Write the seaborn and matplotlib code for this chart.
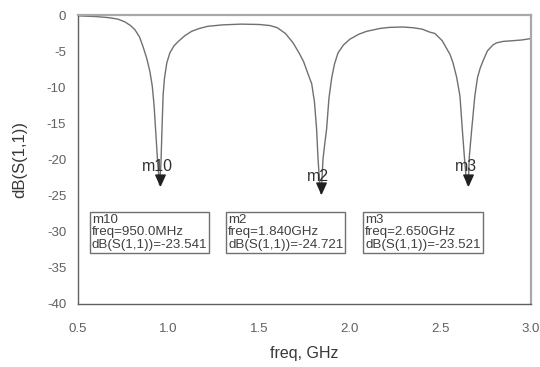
import numpy as np
import pandas as pd
import seaborn as sns
import matplotlib
matplotlib.use("Agg")
import matplotlib.pyplot as plt
from matplotlib.path import Path
from matplotlib.ticker import MultipleLocator

# ---- data ----
freq_ghz = [0.50, 0.60, 0.67, 0.72, 0.76, 0.79, 0.815, 0.84, 0.86, 0.88, 0.897,
            0.91, 0.92, 0.93, 0.94, 0.95, 0.958, 0.964, 0.970, 0.977, 0.99, 1.007,
            1.03, 1.054, 1.09, 1.127, 1.17, 1.217, 1.30, 1.40, 1.50, 1.56, 1.60,
            1.645, 1.687, 1.72, 1.745, 1.765, 1.79, 1.805, 1.817, 1.825, 1.833,
            1.84, 1.846, 1.852, 1.862, 1.872, 1.885, 1.90, 1.915, 1.935, 1.965,
            2.00, 2.05, 2.093, 2.167, 2.22, 2.29, 2.35, 2.40, 2.44, 2.47, 2.51,
            2.553, 2.57, 2.59, 2.608, 2.621, 2.632, 2.642, 2.65, 2.655, 2.66,
            2.673, 2.69, 2.705, 2.72, 2.737, 2.76, 2.79, 2.81, 2.846, 2.90, 2.95, 3.00]
s11_db = [-0.05, -0.15, -0.3, -0.5, -0.9, -1.4, -2.0, -3.0, -4.4, -6.0, -7.8,
          -9.8, -12.5, -16.5, -20.5, -23.541, -20.5, -15.5, -11.0, -8.8, -6.6, -5.2,
          -4.2, -3.6, -2.8, -2.2, -1.8, -1.5, -1.3, -1.2, -1.25, -1.4, -1.7,
          -2.5, -3.8, -5.2, -6.4, -7.8, -9.5, -12.0, -15.8, -20.0, -23.0,
          -24.721, -23.0, -20.0, -17.8, -15.8, -11.5, -8.7, -6.8, -5.2, -4.1,
          -3.3, -2.6, -2.2, -1.8, -1.65, -1.6, -1.7, -1.9, -2.3, -2.5, -3.5,
          -5.4, -6.6, -8.6, -11.2, -15.8, -19.5, -22.5, -23.521, -22.5, -19.5,
          -15.8, -11.2, -8.6, -7.3, -6.2, -4.9, -4.1, -3.8, -3.6, -3.5, -3.4, -3.2]

marker_names = ["m10", "m2", "m3"]
marker_freq = [0.95, 1.84, 2.65]
marker_db = [-23.541, -24.721, -23.521]
marker_freq_text = ["950.0MHz", "1.840GHz", "2.650GHz"]
marker_label_xy = [(0.94, -21.0), (1.825, -22.3), (2.641, -21.0)]
readout_xy = [(0.577, -27.55), (1.328, -27.55), (2.084, -27.55)]

x_ticks = [0.5, 1.0, 1.5, 2.0, 2.5, 3.0]
y_ticks = [0, -5, -10, -15, -20, -25, -30, -35, -40]

# ---- plotting ----
sns.set_style("white")
plt.rcParams["font.family"] = ["Liberation Sans", "DejaVu Sans"]

fig = plt.figure(figsize=(5.4, 3.67), dpi=100)
ax = fig.add_axes([0.1444, 0.173, 0.9833 - 0.1444, 0.9578 - 0.173])

df = pd.DataFrame({"freq": freq_ghz, "s11": s11_db})
sns.lineplot(data=df, x="freq", y="s11", ax=ax, color="#707070", linewidth=1.0)

ax.set_xlim(0.5, 3.0)
ax.set_ylim(-40, 0)
ax.set_xticks(x_ticks)
ax.set_xticklabels([f"{v:.1f}" for v in x_ticks])
ax.set_yticks(y_ticks)
ax.set_yticklabels([str(v) for v in y_ticks])
ax.xaxis.set_minor_locator(MultipleLocator(0.1))

ax.tick_params(axis="x", which="major", direction="out", length=7, width=1,
               color="#606060", labelsize=9.5, labelcolor="#606060", pad=7)
ax.tick_params(axis="x", which="minor", direction="out", length=4, width=0.8,
               color="#606060")
ax.tick_params(axis="y", which="major", direction="out", length=7, width=1,
               color="#606060", labelsize=9.5, labelcolor="#606060", pad=1.5)

for side in ["left", "bottom"]:
    ax.spines[side].set_color("#606060")
    ax.spines[side].set_linewidth(1.0)
for side in ["top", "right"]:
    ax.spines[side].set_visible(True)
    ax.spines[side].set_color("#a8a8a8")
    ax.spines[side].set_linewidth(1.6)

ax.set_xlabel("freq, GHz", fontsize=11.5, color="#383838", labelpad=8)
ax.set_ylabel("dB(S(1,1))", fontsize=12, color="#383838", labelpad=14)

# marker arrows (tip at the dip)
arrow = Path([(-0.45, 1.0), (0.45, 1.0), (0.0, 0.0), (-0.45, 1.0)],
             [Path.MOVETO, Path.LINETO, Path.LINETO, Path.CLOSEPOLY])
for f, d, name, (lx, ly) in zip(marker_freq, marker_db, marker_names, marker_label_xy):
    ax.plot([f], [d], marker=arrow, markersize=15, color="#202020", linestyle="none")
    ax.text(lx, ly, name, fontsize=11.5, color="#303030", ha="center", va="center")

for name, ftxt, d, (bx, by) in zip(marker_names, marker_freq_text, marker_db, readout_xy):
    ax.text(bx, by, f"{name}\nfreq={ftxt}\ndB(S(1,1))={d:.3f}",
            fontsize=9.6, color="#404040", ha="left", va="top", linespacing=1.05,
            bbox=dict(boxstyle="square,pad=0.15", facecolor="white",
                      edgecolor="#707070", linewidth=1.0))

fig.savefig("out.png", dpi=100)
